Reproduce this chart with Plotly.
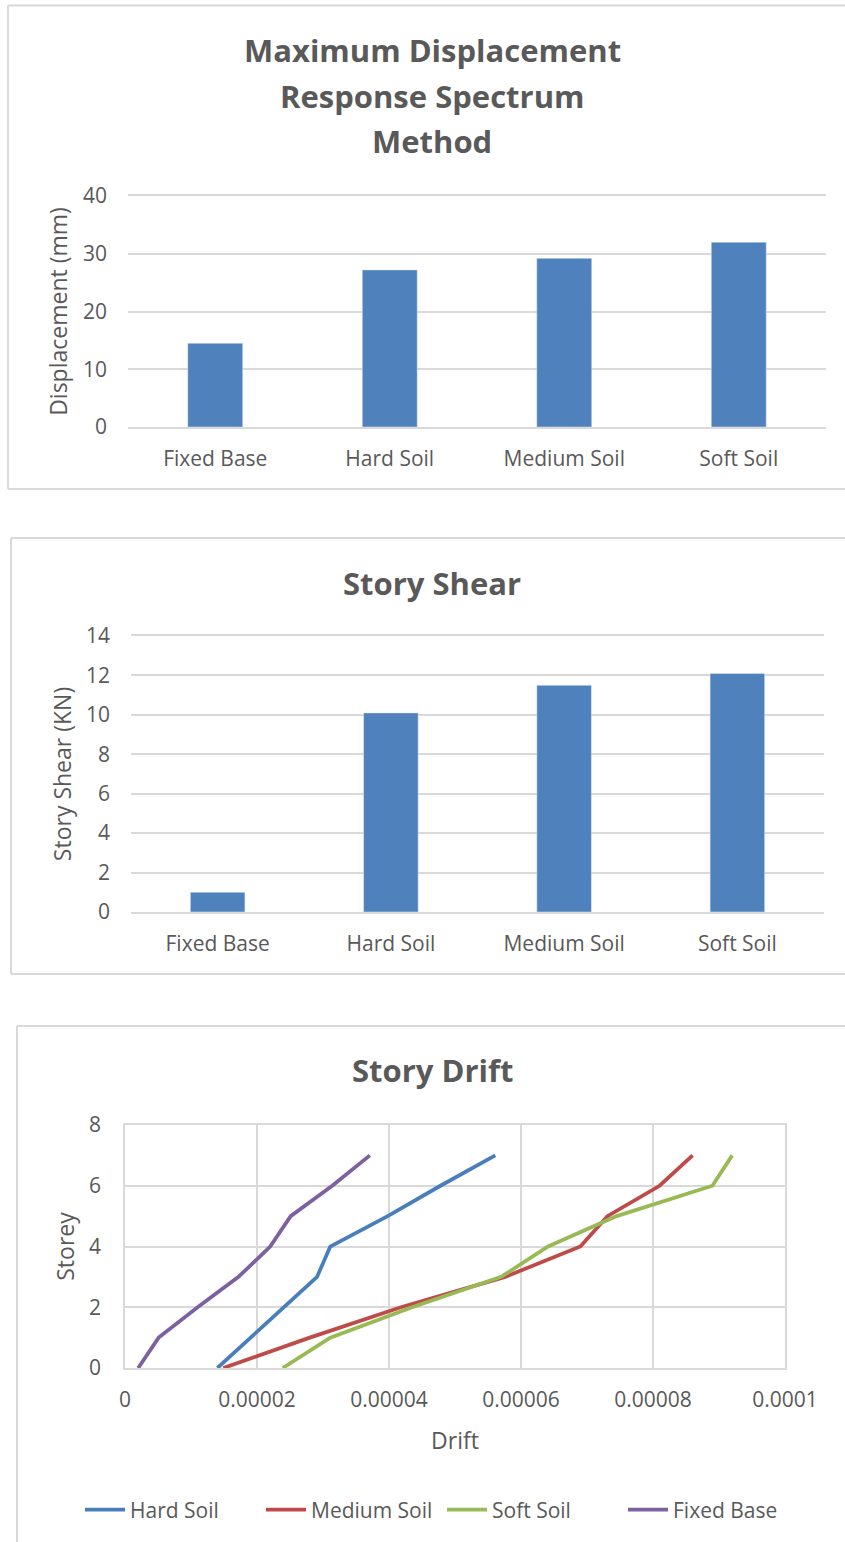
import plotly.graph_objects as go

# ---------------- data ----------------
categories = ["Fixed Base", "Hard Soil", "Medium Soil", "Soft Soil"]
max_displacement_mm = [14.5, 27.2, 29.2, 32.0]
story_shear_kn = [1.0, 10.1, 11.5, 12.1]

storeys = [0, 1, 2, 3, 4, 5, 6, 7]
drift_hard_soil = [1.40e-5, 1.90e-5, 2.40e-5, 2.91e-5, 3.11e-5, 3.98e-5, 4.78e-5, 5.61e-5]
drift_medium_soil = [1.49e-5, 2.80e-5, 4.18e-5, 5.76e-5, 6.90e-5, 7.31e-5, 8.10e-5, 8.60e-5]
drift_soft_soil = [2.39e-5, 3.11e-5, 4.35e-5, 5.70e-5, 6.41e-5, 7.45e-5, 8.90e-5, 9.20e-5]
drift_fixed_base = [2.0e-6, 5.1e-6, 1.10e-5, 1.72e-5, 2.20e-5, 2.51e-5, 3.14e-5, 3.71e-5]

drift_tickvals = [0, 0.00002, 0.00004, 0.00006, 0.00008, 0.0001]
drift_ticktext = ["0", "0.00002", "0.00004", "0.00006", "0.00008", "0.0001"]

title1_lines = ["Maximum Displacement", "Response Spectrum", "Method"]

# ---------------- styling ----------------
W, H = 845, 1542
TXT = "#595959"
GRID = "#d9d9d9"
FONT = "Open Sans"
BAR = "#4f81bd"


def px_x(p):
    return p / W


def px_y(p):
    return 1 - p / H


fig = go.Figure()

fig.add_trace(go.Bar(x=categories, y=max_displacement_mm, marker_color=BAR,
                     xaxis="x", yaxis="y", showlegend=False))
fig.add_trace(go.Bar(x=categories, y=story_shear_kn, marker_color=BAR,
                     xaxis="x2", yaxis="y2", showlegend=False))

line_series = [
    ("Hard Soil", drift_hard_soil, "#4a7ebb"),
    ("Medium Soil", drift_medium_soil, "#be4b48"),
    ("Soft Soil", drift_soft_soil, "#98b954"),
    ("Fixed Base", drift_fixed_base, "#7d60a0"),
]
for name, xs, col in line_series:
    fig.add_trace(go.Scatter(x=xs, y=storeys, mode="lines", name=name,
                             line=dict(color=col, width=3.75),
                             xaxis="x3", yaxis="y3"))

tickfont = dict(family=FONT, size=21, color=TXT)
titlefont = dict(family=FONT, size=23, color=TXT)

common_x = dict(showgrid=False, zeroline=False, ticks="",
                showline=True, mirror=True, linecolor=GRID, linewidth=1.5,
                tickfont=tickfont, fixedrange=True, ticklabelstandoff=12)
common_y = dict(showgrid=True, gridcolor=GRID, gridwidth=1.5, zeroline=False,
                showline=False, ticks="", tickfont=tickfont, ticklabelstandoff=20)

fig.update_layout(
    width=W, height=H,
    margin=dict(l=0, r=0, t=0, b=0, autoexpand=False),
    paper_bgcolor="white", plot_bgcolor="white",
    font=dict(family=FONT, color=TXT),
    bargap=0.685,
    xaxis=dict(domain=[px_x(128), px_x(826)], anchor="y", **common_x),
    yaxis=dict(domain=[px_y(427), px_y(196)], anchor="x", range=[0, 40], dtick=10,
               title=dict(text="Displacement (mm)", font=titlefont, standoff=8),
               **common_y),
    xaxis2=dict(domain=[px_x(131), px_x(824)], anchor="y2", **common_x),
    yaxis2=dict(domain=[px_y(912), px_y(636)], anchor="x2", range=[0, 14], dtick=2,
                title=dict(text="Story Shear (KN)", font=titlefont, standoff=7),
                **common_y),
    xaxis3=dict(domain=[px_x(125), px_x(785)], anchor="y3", range=[0, 0.0001],
                tickmode="array", tickvals=drift_tickvals, ticktext=drift_ticktext,
                showgrid=True, gridcolor=GRID, gridwidth=1.5, zeroline=False,
                showline=True, mirror=True, linecolor=GRID, linewidth=1.5,
                ticks="", tickfont=tickfont, ticklabelstandoff=12,
                title=dict(text="Drift", font=titlefont, standoff=21)),
    yaxis3=dict(domain=[px_y(1368), px_y(1125)], anchor="x3", range=[0, 8], dtick=2,
                showgrid=True, gridcolor=GRID, gridwidth=1.5, zeroline=False,
                showline=True, mirror=True, linecolor=GRID, linewidth=1.5,
                ticks="", tickfont=tickfont, ticklabelstandoff=18,
                title=dict(text="Storey", font=titlefont, standoff=8)),
    legend=dict(orientation="h", x=px_x(442), xanchor="center",
                y=px_y(1510), yanchor="middle",
                font=dict(family=FONT, size=21, color=TXT),
                itemwidth=40, entrywidthmode="pixels", entrywidth=126,
                tracegroupgap=0, bgcolor="rgba(0,0,0,0)"),
)

# chart titles
title_font = dict(family=FONT, size=31, color=TXT, weight="bold")
for line_text, ypix in zip(title1_lines, [50, 96, 141]):
    fig.add_annotation(text=line_text, x=px_x(432), y=px_y(ypix), xref="paper",
                       yref="paper", xanchor="center", yanchor="middle",
                       showarrow=False, font=title_font)
fig.add_annotation(text="Story Shear", x=px_x(432), y=px_y(583), xref="paper",
                   yref="paper", xanchor="center", yanchor="middle",
                   showarrow=False, font=title_font)
fig.add_annotation(text="Story Drift", x=px_x(432), y=px_y(1070), xref="paper",
                   yref="paper", xanchor="center", yanchor="middle",
                   showarrow=False, font=title_font)

# chart frames: left, top and bottom edges (right edges run off the page)
frame = dict(color=GRID, width=2)
for left, top, bottom in [(8, 5.5, 489), (11, 538, 974), (17, 1026, None)]:
    yb = px_y(bottom) if bottom is not None else 0
    fig.add_shape(type="line", xref="paper", yref="paper",
                  x0=px_x(left), x1=px_x(left), y0=yb, y1=px_y(top), line=frame)
    fig.add_shape(type="line", xref="paper", yref="paper",
                  x0=px_x(left), x1=1, y0=px_y(top), y1=px_y(top), line=frame)
    if bottom is not None:
        fig.add_shape(type="line", xref="paper", yref="paper",
                      x0=px_x(left), x1=1, y0=yb, y1=yb, line=frame)

fig.write_html(
    "out.html",
    config={"displayModeBar": False},
    post_script="document.body.style.margin='0';document.body.style.overflow='hidden';",
)
